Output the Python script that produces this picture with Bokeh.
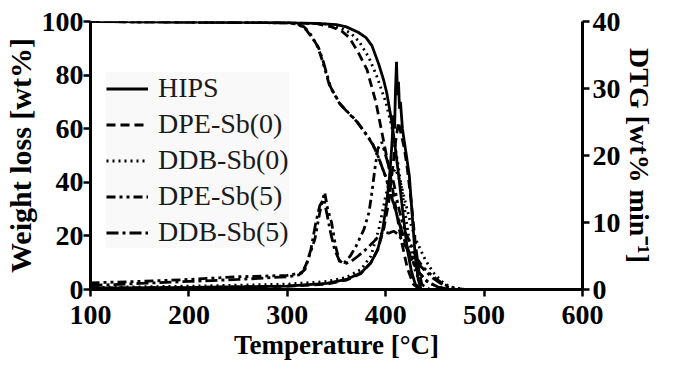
from bokeh.plotting import figure
from bokeh.models import Range1d, LinearAxis, FixedTicker, Legend, LegendItem
from bokeh.embed import file_html
from bokeh.resources import INLINE

# ---------------- data ----------------
# TG curves (remaining weight, wt%)
tg_T_hips = [100, 200, 300, 330, 350, 360, 372, 380, 386, 393, 398, 401, 406, 410, 414, 418, 422, 426, 430, 436, 600]
tg_W_hips = [100, 99.9, 99.6, 99.3, 98.8, 98, 96, 94, 91, 84, 78, 73.5, 63, 52, 40, 27, 15, 7, 2, 0, 0]

tg_T_dpe0 = [100, 300, 330, 345, 355, 363, 372, 381, 390, 397, 404, 410, 416, 422, 428, 435, 600]
tg_W_dpe0 = [100, 99.6, 99.2, 98, 96.5, 94, 88.5, 82, 70, 57, 44, 31, 18, 8, 2, 0, 0]

tg_T_ddb0 = [100, 300, 340, 355, 365, 373, 383, 391, 400, 406, 412, 418, 424, 430, 436, 445, 600]
tg_W_ddb0 = [100, 99.6, 99, 97.5, 95.5, 92.5, 86.5, 79.5, 70, 61, 48, 33, 18, 7, 2, 0, 0]

tg_T_dpe5 = [100, 300, 310, 316, 320, 323, 327, 331, 336, 343, 353, 362, 370, 378, 386, 393, 400, 408, 416, 424, 432, 442, 452, 465, 600]
tg_W_dpe5 = [100, 99.5, 99, 98, 96.5, 95, 93, 90.5, 85, 76, 69.5, 66, 63, 59, 55, 49, 42, 32, 22, 13, 7, 3, 1, 0, 0]

tg_T_ddb5 = [100, 300, 311, 317, 321, 324, 328, 332, 337, 344, 354, 363, 371, 379, 387, 394, 401, 409, 417, 425, 433, 443, 453, 466, 600]
tg_W_ddb5 = [100, 99.5, 99, 98, 96.5, 95, 92.5, 90, 84.5, 75.5, 69, 65.5, 62.5, 58.5, 54, 48, 41, 31, 21, 12.5, 6.5, 2.8, 0.9, 0, 0]

# DTG curves (wt% min-1)
dtg_T_hips = [100, 200, 300, 340, 360, 375, 385, 392, 397, 401, 404, 406, 408, 409, 410, 411, 412, 413, 414, 415, 417, 419, 421, 424, 427, 430, 433, 436, 450, 600]
dtg_D_hips = [0.2, 0.3, 0.5, 0.9, 1.5, 2.5, 4, 6, 9, 13, 17, 21, 26, 24, 30, 34, 29, 31, 27, 28, 24, 22, 20, 17, 11, 5, 1.5, 0, 0, 0]

dtg_T_dpe0 = [100, 200, 300, 340, 360, 375, 385, 392, 398, 403, 407, 410, 413, 416, 419, 422, 426, 430, 434, 438, 450, 600]
dtg_D_dpe0 = [0.2, 0.3, 0.5, 0.8, 1.4, 2.4, 4, 6, 9, 13, 18, 22, 25, 23, 21, 18, 13, 7, 2.5, 0, 0, 0]

dtg_T_ddb0 = [100, 200, 300, 340, 360, 375, 385, 393, 400, 405, 410, 415, 420, 426, 432, 440, 448, 456, 464, 472, 480, 600]
dtg_D_ddb0 = [0.3, 0.5, 0.8, 1.2, 1.8, 3, 5, 9, 14, 17, 18, 16, 13, 9.5, 7, 4.5, 2.6, 1.3, 0.5, 0.2, 0, 0]

dtg_T_dpe5 = [100, 150, 200, 250, 300, 315, 320, 328, 333, 336, 338, 341, 345, 349, 353, 358, 364, 370, 378, 383, 386, 389, 392, 396, 400, 404, 408, 412, 416, 420, 425, 430, 437, 444, 452, 460, 470, 480, 600]
dtg_D_dpe5 = [1.0, 1.2, 1.5, 1.9, 2.1, 2.5, 4, 7.5, 11.5, 13.5, 14.5, 12, 10, 6.5, 4.2, 4, 5, 6.5, 9, 11.5, 14.5, 18, 21, 22, 20, 18, 16, 13, 10.5, 8.5, 7, 5, 3.5, 2.5, 1.5, 0.7, 0.2, 0, 0]

dtg_T_ddb5 = [100, 150, 200, 250, 300, 312, 318, 324, 329, 333, 337, 340, 344, 348, 353, 358, 365, 372, 380, 387, 393, 398, 403, 408, 413, 418, 424, 432, 440, 448, 456, 464, 472, 600]
dtg_D_ddb5 = [0.6, 0.9, 1.2, 1.5, 1.9, 2.2, 3, 6, 10, 12.5, 13.5, 11.5, 8.5, 6, 4.3, 3.8, 4.2, 5, 6, 7, 8, 8.6, 8.4, 8.7, 8.2, 7, 5.5, 4, 2.8, 1.7, 0.9, 0.3, 0, 0]

series_names = ["HIPS", "DPE-Sb(0)", "DDB-Sb(0)", "DPE-Sb(5)", "DDB-Sb(5)"]
x_ticks = [100, 200, 300, 400, 500, 600]
y_ticks = [0, 20, 40, 60, 80, 100]
y2_ticks = [0, 10, 20, 30, 40]

# ---------------- styles ----------------
dashes = ["solid", "9 5", "2 4", "9 4 3 4 3 4", "12 4 3 4"]
LW = 2.8
FONT = "Liberation Serif"

p = figure(width=657, height=362, output_backend="svg", toolbar_location=None,
           x_range=Range1d(100, 600), y_range=Range1d(0, 100),
           min_border_left=82, min_border_right=70, min_border_top=21, min_border_bottom=73)
p.extra_y_ranges = {"dtg": Range1d(0, 40)}
p.outline_line_color = None
p.xgrid.visible = False
p.ygrid.visible = False
p.background_fill_color = "white"

tg_sets = [(tg_T_hips, tg_W_hips), (tg_T_dpe0, tg_W_dpe0), (tg_T_ddb0, tg_W_ddb0),
           (tg_T_dpe5, tg_W_dpe5), (tg_T_ddb5, tg_W_ddb5)]
dtg_sets = [(dtg_T_hips, dtg_D_hips), (dtg_T_dpe0, dtg_D_dpe0), (dtg_T_ddb0, dtg_D_ddb0),
            (dtg_T_dpe5, dtg_D_dpe5), (dtg_T_ddb5, dtg_D_ddb5)]

items = []
for i, name in enumerate(series_names):
    t, w = tg_sets[i]
    r1 = p.line(t, w, line_color="black", line_width=LW, line_dash=dashes[i])
    t2, d2 = dtg_sets[i]
    p.line(t2, d2, line_color="black", line_width=LW, line_dash=dashes[i], y_range_name="dtg")
    items.append(LegendItem(label=name, renderers=[r1]))

def style_axis(ax, title_size="28px"):
    ax.axis_line_width = 3
    ax.axis_line_color = "black"
    ax.major_tick_line_width = 2.5
    ax.major_tick_line_color = "black"
    ax.major_tick_out = 7
    ax.major_tick_in = 0
    ax.minor_tick_line_color = None
    ax.major_label_text_font = FONT
    ax.major_label_text_font_style = "bold"
    ax.major_label_text_font_size = "28px"
    ax.major_label_text_color = "black"
    ax.axis_label_text_font = FONT
    ax.axis_label_text_font_style = "bold"
    ax.axis_label_text_font_size = title_size
    ax.axis_label_text_color = "black"

p.xaxis.ticker = FixedTicker(ticks=x_ticks)
p.yaxis.ticker = FixedTicker(ticks=y_ticks)
p.xaxis.axis_label = "Temperature [°C]"
p.yaxis.axis_label = "Weight loss [wt%]"
style_axis(p.xaxis[0], "27px")
style_axis(p.yaxis[0], "30px")
p.xaxis.major_label_standoff = 9
p.xaxis.axis_label_standoff = 3
p.yaxis.major_label_standoff = 0
p.yaxis.axis_label_standoff = 2

ax2 = LinearAxis(y_range_name="dtg", ticker=FixedTicker(ticks=y2_ticks), axis_label="DTG [wt% min⁻¹]")
style_axis(ax2, "28px")
ax2.major_label_standoff = 3
ax2.axis_label_standoff = 0
p.add_layout(ax2, "right")

legend = Legend(items=items, location=(16, 41))
legend.label_text_font = FONT
legend.label_text_font_size = "28px"
legend.label_text_color = "#1a1a1a"
legend.glyph_width = 42
legend.glyph_height = 31
legend.label_height = 31
legend.label_standoff = 10
legend.spacing = 4
legend.padding = 4
legend.margin = 0
legend.border_line_color = None
legend.background_fill_color = "#f8f8f8"
legend.background_fill_alpha = 0.8
p.add_layout(legend, "center")

open("out.html", "w").write(file_html(p, INLINE))
